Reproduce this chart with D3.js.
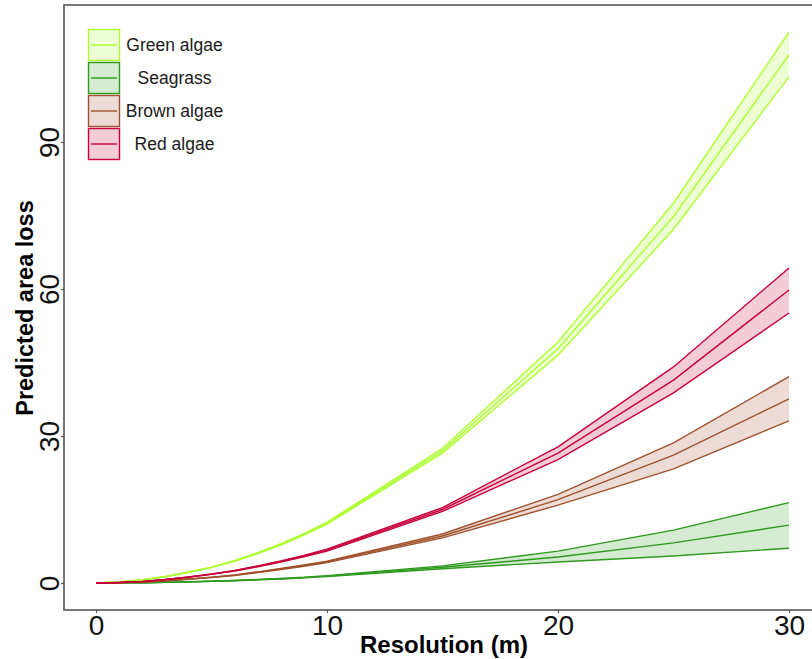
<!DOCTYPE html>
<html>
<head>
<meta charset="utf-8">
<script src="https://cdn.jsdelivr.net/npm/d3@7"></script>
<style>
  html, body { margin: 0; padding: 0; background: #fff; }
  svg { display: block; font-family: "Liberation Sans", Arial, sans-serif; }
</style>
</head>
<body>
<svg id="chart" width="812" height="659"></svg>
<script>
// ---- data ----
const resolution = [0, 1, 2, 3, 4, 5, 6, 7, 8, 9, 10, 15, 20, 25, 30];

const greenMid   = [0, 0.2, 0.65, 1.3, 2.2, 3.2, 4.5, 6.1, 7.9, 9.9, 12.2, 27.0, 47.8, 74.8, 107.8];
const greenLow   = [0, 0.2, 0.63, 1.27, 2.15, 3.15, 4.4, 6.0, 7.75, 9.75, 12.0, 26.5, 46.5, 72.2, 103.3];
const greenHigh  = [0, 0.2, 0.67, 1.33, 2.25, 3.25, 4.6, 6.2, 8.05, 10.05, 12.4, 27.5, 49.2, 77.5, 112.4];

const seaMid     = [0, 0.02, 0.06, 0.13, 0.23, 0.35, 0.5, 0.68, 0.88, 1.1, 1.4, 3.2, 5.3, 8.2, 11.8];
const seaLow     = [0, 0.02, 0.06, 0.12, 0.22, 0.33, 0.47, 0.64, 0.83, 1.04, 1.3, 2.9, 4.3, 5.5, 7.1];
const seaHigh    = [0, 0.02, 0.06, 0.14, 0.24, 0.37, 0.53, 0.72, 0.93, 1.16, 1.5, 3.5, 6.5, 10.8, 16.4];

const brownMid   = [0, 0.07, 0.2, 0.45, 0.8, 1.15, 1.6, 2.2, 2.85, 3.55, 4.3, 9.6, 17.0, 26.1, 37.6];
const brownLow   = [0, 0.07, 0.19, 0.43, 0.77, 1.1, 1.54, 2.12, 2.75, 3.43, 4.15, 9.2, 15.9, 23.3, 33.1];
const brownHigh  = [0, 0.07, 0.21, 0.47, 0.83, 1.2, 1.66, 2.28, 2.95, 3.67, 4.45, 10.0, 18.1, 28.6, 42.1];

const redMid     = [0, 0.1, 0.3, 0.7, 1.2, 1.8, 2.5, 3.4, 4.4, 5.5, 6.7, 15.0, 26.5, 41.4, 59.8];
const redLow     = [0, 0.1, 0.29, 0.68, 1.16, 1.75, 2.43, 3.3, 4.28, 5.35, 6.5, 14.6, 25.2, 38.8, 55.1];
const redHigh    = [0, 0.1, 0.31, 0.72, 1.24, 1.85, 2.57, 3.5, 4.52, 5.65, 6.9, 15.4, 27.8, 44.1, 64.3];

const seriesNames  = ["Green algae", "Seagrass", "Brown algae", "Red algae"];
const seriesColors = ["#adff2f", "#2e9a1e", "#a0522d", "#c8003a"];
const xTicks = [0, 10, 20, 30];
const yTicks = [0, 30, 60, 90];

const series = [
  { name: seriesNames[0], color: seriesColors[0], mid: greenMid, low: greenLow, high: greenHigh },
  { name: seriesNames[1], color: seriesColors[1], mid: seaMid,   low: seaLow,   high: seaHigh },
  { name: seriesNames[2], color: seriesColors[2], mid: brownMid, low: brownLow, high: brownHigh },
  { name: seriesNames[3], color: seriesColors[3], mid: redMid,   low: redLow,   high: redHigh }
];

// ---- layout ----
const svg = d3.select("#chart");
const panel = { left: 64, top: 5, right: 816, bottom: 610 };

const x = d3.scaleLinear().domain([0, 30]).range([96, 789]);
const y = d3.scaleLinear().domain([0, 90]).range([583, 142]);

// panel border
svg.append("rect")
  .attr("x", panel.left).attr("y", panel.top)
  .attr("width", panel.right - panel.left).attr("height", panel.bottom - panel.top)
  .attr("fill", "#fff").attr("stroke", "#555").attr("stroke-width", 1.6);

const g = svg.append("g");

const area = d3.area().x((d, i) => x(resolution[i])).y0(d => y(d[0])).y1(d => y(d[1]));
const line = d3.line().x((d, i) => x(resolution[i])).y(d => y(d));

series.forEach(s => {
  const pairs = s.low.map((v, i) => [v, s.high[i]]);
  g.append("path").attr("d", area(pairs))
    .attr("fill", s.color).attr("fill-opacity", 0.2).attr("stroke", "none");
});
series.forEach(s => {
  [s.low, s.high, s.mid].forEach(arr => {
    g.append("path").attr("d", line(arr))
      .attr("fill", "none").attr("stroke", s.color).attr("stroke-width", 1.4);
  });
});

// x axis
const xAxis = d3.axisBottom(x).tickValues(xTicks).tickSize(3).tickPadding(2);
const xg = svg.append("g").attr("transform", `translate(0,${panel.bottom})`).call(xAxis);
xg.select(".domain").remove();
xg.selectAll(".tick line").attr("stroke", "#555").attr("stroke-width", 1.2);
xg.selectAll(".tick text").attr("font-size", 28).attr("fill", "#111")
  .attr("font-family", "Liberation Sans, Arial, sans-serif");

// y axis
const yAxis = d3.axisLeft(y).tickValues(yTicks).tickSize(3).tickPadding(2);
const yg = svg.append("g").attr("transform", `translate(${panel.left},0)`).call(yAxis);
yg.select(".domain").remove();
yg.selectAll(".tick line").attr("stroke", "#555").attr("stroke-width", 1.2);
yg.selectAll(".tick text")
  .attr("font-size", 28).attr("fill", "#111")
  .attr("font-family", "Liberation Sans, Arial, sans-serif")
  .attr("text-anchor", "middle")
  .attr("x", 0).attr("dy", null)
  .attr("transform", "translate(-15,0) rotate(-90)")
  .attr("dominant-baseline", "central");

// axis titles
svg.append("text")
  .attr("x", 444).attr("y", 653)
  .attr("text-anchor", "middle")
  .attr("font-size", 24).attr("font-weight", "bold").attr("fill", "#000")
  .text("Resolution (m)");

svg.append("text")
  .attr("transform", "translate(33,308) rotate(-90)")
  .attr("text-anchor", "middle")
  .attr("font-size", 23.5).attr("font-weight", "bold").attr("fill", "#000")
  .text("Predicted area loss");

// legend
const legend = svg.append("g").attr("transform", "translate(88,29)");
series.forEach((s, i) => {
  const row = legend.append("g").attr("transform", `translate(0,${i * 33})`);
  row.append("rect").attr("x", 0.5).attr("y", 0.5).attr("width", 31).attr("height", 31)
    .attr("fill", s.color).attr("fill-opacity", 0.2)
    .attr("stroke", s.color).attr("stroke-width", 1.4);
  row.append("line").attr("x1", 3).attr("x2", 29).attr("y1", 16).attr("y2", 16)
    .attr("stroke", s.color).attr("stroke-width", 1.4);
  row.append("text").attr("x", 86.5).attr("y", 16)
    .attr("text-anchor", "middle").attr("dominant-baseline", "central")
    .attr("font-size", 17.5).attr("fill", "#1a1a1a")
    .text(s.name);
});
</script>
</body>
</html>
